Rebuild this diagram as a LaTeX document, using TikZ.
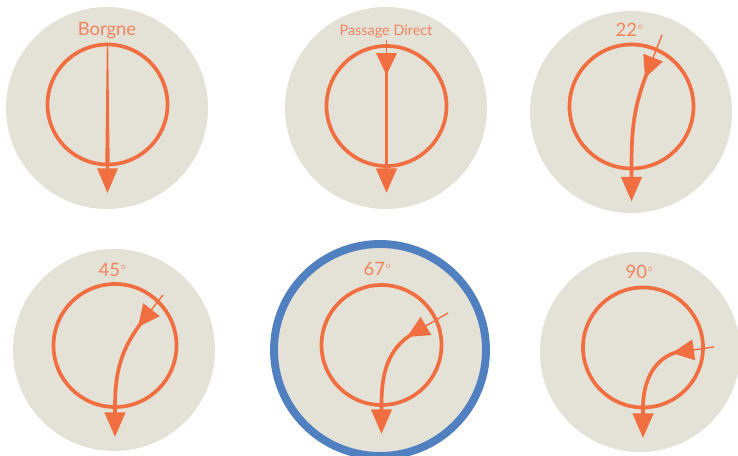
\documentclass[tikz,border=0pt]{standalone}
\usepackage{fontspec}
\setmainfont{Lato}
\usetikzlibrary{arrows.meta}
\definecolor{sable}{RGB}{228,225,214}
\definecolor{rouille}{RGB}{240,110,64}
\definecolor{texte}{RGB}{240,132,92}
\definecolor{bleu}{RGB}{80,128,192}
\newcommand{\degre}{$^{\scriptscriptstyle\circ}$}

\begin{document}
\begin{tikzpicture}[x=0.02cm,y=0.02cm,
  fond/.style={fill=sable},
  cercle/.style={draw=rouille,line width=2.1pt},
  trajet/.style={draw=rouille,line width=2.1pt,-{Triangle[length=14pt,width=11.5pt]}},
  entree/.style={draw=rouille,line width=0.8pt,-{Triangle[length=12.5pt,width=11.8pt]}},
  etiquette/.style={text=texte,font=\fontsize{10.5}{12}\selectfont}]
\useasboundingbox (0,0) rectangle (738,-456);
% ---------- Borgne ----------
\begin{scope}[shift={(107.5,-104.5)}]
\fill[fond] (-0.5,-3.5) circle (101);
\draw[cercle] (0,0) circle (60);
% tige effilee
\fill[rouille] (-0.7,58) -- (0.7,58) -- (2.2,-60) -- (-2.2,-60) -- cycle;
\draw[trajet,line width=1.4pt] (0,-56) -- (0,-88.5);
\node[etiquette] (borgne) at (-0.5,74) {Borgne};
\end{scope}
% ---------- Passage Direct ----------
\begin{scope}[shift={(386.5,-106)}]
\fill[fond] (-0.5,-2) circle (101);
\draw[cercle] (0,0) circle (60);
\draw[trajet] (0,37) -- (0,-87);
\draw[entree] (0,66) -- (0,31);
\node[etiquette,font=\fontsize{8.2}{10}\selectfont] (direct) at (-0.5,74.5) {Passage Direct};
\end{scope}
% ---------- 22 ----------
\begin{scope}[shift={(631.5,-106.5)}]
\fill[fond] (-0.5,-5.5) circle (101);
\draw[cercle] (0,0) circle (62);
\draw[trajet] (16.5,35.9) to[out=248,in=90] (0,-62) -- (0,-95);
\draw[entree] (30.5,71.5) -- (13.5,28.5);
\node[etiquette] (a22) at (-1.5,77) {22\degre};
\end{scope}
% ---------- 45 ----------
\begin{scope}[shift={(115,-345.5)}]
\fill[fond] (-1,-4.5) circle (101);
\draw[cercle] (0,0) circle (61.5);
\draw[trajet] (27.9,24.8) to[out=232,in=90] (0,-61.5) -- (0,-91.5);
\draw[entree] (48,50.5) -- (23,18.5);
\node[etiquette] (a45) at (-2,76) {45\degre};
\end{scope}
% ---------- 67 (cercle bleu) ----------
\begin{scope}[shift={(381.5,-345)}]
\draw[fond,draw=bleu,line width=4.5pt] (-1.5,-5) circle (106);
\draw[cercle] (0,0) circle (60);
\draw[trajet] (32.4,12) to[out=210,in=90] (0,-60) -- (0,-89);
\draw[entree] (66.5,32) -- (25.5,8);
\node[etiquette] (a67) at (-3.5,76.5) {67\degre};
\end{scope}
% ---------- 90 ----------
\begin{scope}[shift={(643,-347.5)}]
\fill[fond] (-3,-4.5) circle (100);
\draw[cercle] (0,0) circle (60);
\draw[trajet] (36.8,-3.9) to[out=192,in=90] (0,-60) -- (0,-90.5);
\draw[entree] (71,0.5) -- (29,-5.5);
\node[etiquette] (a90) at (-3,76) {90\degre};
\end{scope}
\end{tikzpicture}
\end{document}
